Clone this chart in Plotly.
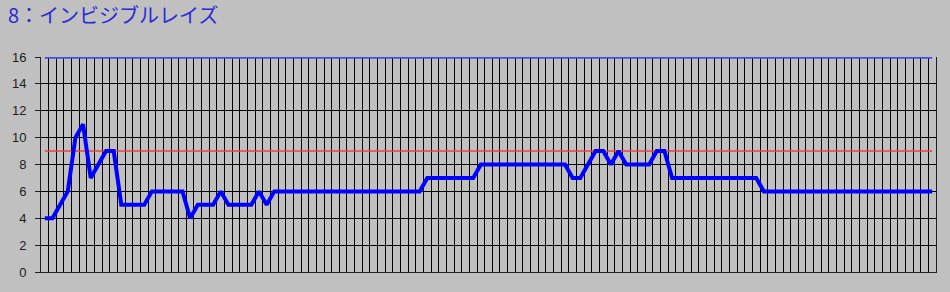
import plotly.graph_objects as go

title_text = "8：インビジブルレイズ"
values = [4, 4, 5, 6, 10, 11, 7, 8, 9, 9,
          5, 5, 5, 5, 6, 6, 6, 6, 6, 4,
          5, 5, 5, 6, 5, 5, 5, 5, 6, 5] + \
         [6] * 20 + [7] * 7 + [8] * 12 + \
         [7, 7, 8, 9, 9, 8, 9, 8, 8, 8, 8, 9, 9] + \
         [7] * 12 + [6] * 23
categories = list(range(len(values)))
ref_level = [9] * len(values)
max_level = [16] * len(values)
y_ticks = [0, 2, 4, 6, 8, 10, 12, 14, 16]

fig = go.Figure()
fig.add_trace(go.Scatter(x=categories, y=max_level, mode="lines",
                         line=dict(color="#4a4aee", width=3.5), hoverinfo="skip"))
fig.add_trace(go.Scatter(x=categories, y=ref_level, mode="lines",
                         line=dict(color="#f04040", width=1.5), hoverinfo="skip"))
fig.add_trace(go.Scatter(x=categories, y=values, mode="lines",
                         line=dict(color="#0000ff", width=4), hoverinfo="skip"))

n = len(values)
fig.update_layout(
    width=950, height=292,
    margin=dict(l=40, r=14, t=57, b=18),
    paper_bgcolor="#c0c0c0", plot_bgcolor="#c0c0c0",
    showlegend=False,
    title=dict(text=title_text, x=8 / 950, xref="container", xanchor="left",
               y=1 - 16 / 292, yref="container", yanchor="middle",
               font=dict(family="Noto Sans CJK JP", size=20, color="#2a2ad8")),
    xaxis=dict(range=[-0.5, n - 0.5], tick0=-0.5, dtick=1, tickmode="linear",
               showgrid=True, gridcolor="#000000", gridwidth=1,
               showticklabels=False, zeroline=False,
               showline=True, linecolor="#202020", linewidth=1, mirror=False),
    yaxis=dict(range=[0, 16], tickvals=y_ticks, showgrid=True,
               gridcolor="#000000", gridwidth=1, zeroline=False,
               ticks="outside", ticklen=5, tickcolor="#202020",
               ticklabelstandoff=6,
               tickfont=dict(family="Liberation Sans", size=13, color="#202020"),
               showline=True, linecolor="#202020", linewidth=1, mirror=True),
)

fig.write_html("out.html")
